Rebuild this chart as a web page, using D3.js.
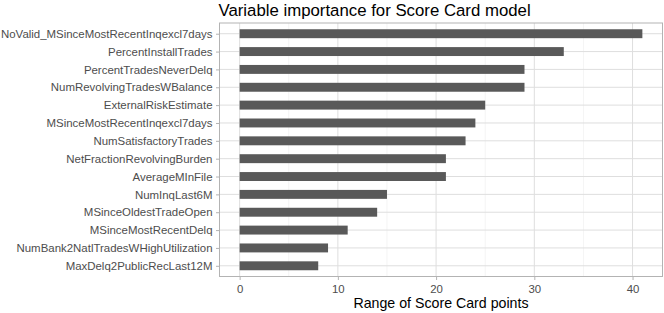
<!DOCTYPE html>
<html>
<head>
<meta charset="utf-8">
<script src="https://cdn.jsdelivr.net/npm/d3@7"></script>
<style>
  body { margin: 0; background: #fff; }
  svg text { font-family: "Liberation Sans", Arial, Helvetica, sans-serif; }
</style>
</head>
<body>
<div id="chart"></div>
<script>
// variables, top to bottom
const variables = [
  'NoValid_MSinceMostRecentInqexcl7days',
  'PercentInstallTrades',
  'PercentTradesNeverDelq',
  'NumRevolvingTradesWBalance',
  'ExternalRiskEstimate',
  'MSinceMostRecentInqexcl7days',
  'NumSatisfactoryTrades',
  'NetFractionRevolvingBurden',
  'AverageMInFile',
  'NumInqLast6M',
  'MSinceOldestTradeOpen',
  'MSinceMostRecentDelq',
  'NumBank2NatlTradesWHighUtilization',
  'MaxDelq2PublicRecLast12M'
]
// range of score card points
const points = [41, 33, 29, 29, 25, 24, 23, 21, 21, 15, 14, 11, 9, 8]
const xTicks = [0, 10, 20, 30, 40]
const xMinorTicks = [5, 15, 25, 35]

const width = 664
const height = 313
const margin = { top: 23, right: 1.5, bottom: 36.5, left: 219.5 }
const innerW = width - margin.left - margin.right
const innerH = height - margin.top - margin.bottom

const svg = d3.select('#chart').append('svg')
  .attr('width', width)
  .attr('height', height)

// ggplot-like 5% expansion
const maxV = d3.max(points)
const x = d3.scaleLinear()
  .domain([-maxV * 0.05, maxV * 1.05])
  .range([0, innerW])

const y = d3.scalePoint()
  .domain(variables)
  .range([0, innerH])
  .padding(0.6)

const barH = y.step() * 0.5

const g = svg.append('g')
  .attr('transform', `translate(${margin.left},${margin.top})`)

// minor grid
g.selectAll('.minor').data(xMinorTicks).enter().append('line')
  .attr('x1', d => x(d)).attr('x2', d => x(d))
  .attr('y1', 0).attr('y2', innerH)
  .attr('stroke', '#ededed').attr('stroke-width', 0.6)

// major grid
g.selectAll('.vmajor').data(xTicks).enter().append('line')
  .attr('x1', d => x(d)).attr('x2', d => x(d))
  .attr('y1', 0).attr('y2', innerH)
  .attr('stroke', '#dedede').attr('stroke-width', 1)

g.selectAll('.hmajor').data(variables).enter().append('line')
  .attr('x1', 0).attr('x2', innerW)
  .attr('y1', d => y(d)).attr('y2', d => y(d))
  .attr('stroke', '#dedede').attr('stroke-width', 1)

// bars
g.selectAll('.bar').data(points).enter().append('rect')
  .attr('x', x(0))
  .attr('y', (d, i) => y(variables[i]) - barH / 2)
  .attr('width', d => x(d) - x(0))
  .attr('height', barH)
  .attr('fill', '#595959')

// panel border
g.append('rect')
  .attr('width', innerW)
  .attr('height', innerH)
  .attr('fill', 'none')
  .attr('stroke', '#b3b3b3')
  .attr('stroke-width', 1)

// x axis
const xAxis = g.append('g')
  .attr('transform', `translate(0,${innerH})`)
  .call(d3.axisBottom(x).tickValues(xTicks).tickSize(3.5).tickPadding(5))
xAxis.select('.domain').remove()
xAxis.selectAll('line').attr('stroke', '#b3b3b3')
xAxis.selectAll('text').attr('fill', '#4d4d4d').style('font-size', '11.4px')

// y axis
const yAxis = g.append('g')
  .call(d3.axisLeft(y).tickSize(3.5).tickPadding(3.5))
yAxis.select('.domain').remove()
yAxis.selectAll('line').attr('stroke', '#b3b3b3')
yAxis.selectAll('text').attr('fill', '#4d4d4d').style('font-size', '11.45px')

// axis title
svg.append('text')
  .attr('x', margin.left + innerW / 2)
  .attr('y', 307.5)
  .attr('text-anchor', 'middle')
  .style('font-size', '14.2px')
  .attr('fill', '#000')
  .text('Range of Score Card points')

// title
svg.append('text')
  .attr('x', margin.left - 1)
  .attr('y', 15.5)
  .style('font-size', '16.8px')
  .attr('fill', '#000')
  .text('Variable importance for Score Card model')
</script>
</body>
</html>
